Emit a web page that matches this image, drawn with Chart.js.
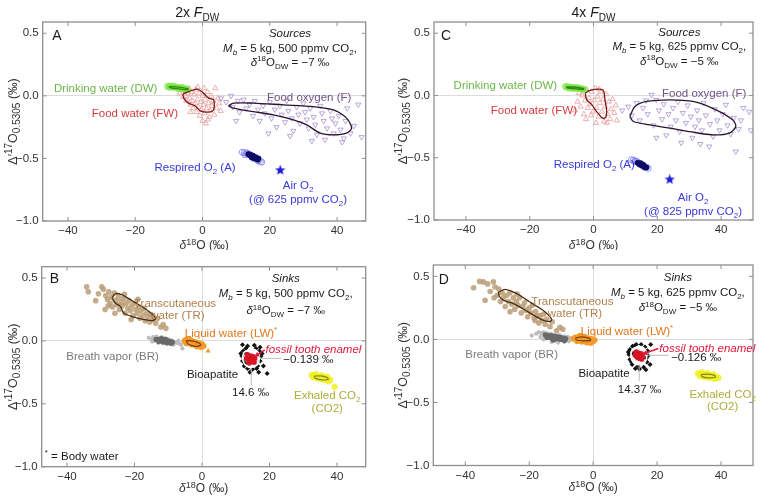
<!DOCTYPE html>
<html>
<head>
<meta charset="utf-8">
<script src="https://cdn.jsdelivr.net/npm/chart.js@4.4.1/dist/chart.umd.min.js"></script>
<style>
  body { margin: 0; background: #fff; }
  #wrap { position: relative; width: 760px; height: 497px; overflow: hidden; }
  canvas { position: absolute; }
</style>
</head>
<body>
<div id="wrap">
  <canvas id="panelA" width="380" height="250" style="left:0;top:0"></canvas>
  <canvas id="panelC" width="380" height="250" style="left:380px;top:0"></canvas>
  <canvas id="panelB" width="380" height="247" style="left:0;top:250px"></canvas>
  <canvas id="panelD" width="380" height="247" style="left:380px;top:250px"></canvas>
</div>
<script>
// ---- axis ticks ----
const xTicks = [-40, -20, 0, 20, 40];
const yTicks = [-1.0, -0.5, 0.0, 0.5];

// ---- panel A (sources, 2x F_DW) ----
const dwA = [[-10.4,0.076],[-10,0.072],[-9.6,0.078],[-9.2,0.071],[-8.8,0.073],[-8.4,0.067],[-8,0.07],[-7.6,0.064],[-7.2,0.067],[-6.8,0.061],[-6.4,0.063],[-6,0.058],[-5.6,0.06],[-5.2,0.054],[-4.8,0.055],[-4.4,0.05],[-9.8,0.068],[-8.6,0.079],[-7,0.057],[-6.2,0.069],[-5,0.047]];
const dwLineA = [[-10,0.074],[-7,0.07],[-4.5,0.058],[-4.2,0.05],[-7,0.056],[-9.5,0.064],[-10,0.074]];
const fwA = [[-6.8,0.02],[-6.2,0.05],[-5.8,-0.01],[-5.4,0.04],[-5,0.0],[-4.8,-0.04],[-4.4,0.02],[-4,0.06],[-3.8,-0.02],[-3.5,-0.07],[-3.2,0.03],[-3,-0.04],[-2.8,-0.1],[-2.5,0.01],[-2.2,-0.06],[-2,0.05],[-1.8,-0.13],[-1.5,-0.03],[-1.2,-0.09],[-1,0.02],[-0.8,-0.16],[-0.5,-0.05],[-0.3,-0.11],[0,0.0],[0,-0.2],[0.3,-0.07],[0.6,-0.14],[0.8,-0.03],[1,-0.22],[1.2,-0.1],[1.5,0.03],[1.8,-0.06],[2,-0.17],[2.3,-0.12],[2.6,0.0],[2.8,-0.08],[3.2,-0.04],[3.5,-0.15],[3.8,0.06],[4.2,-0.1],[4.6,-0.02],[5,-0.06],[5.4,-0.12],[-1.4,0.07],[0.5,0.06],[-3.6,-0.13],[1.6,-0.19]];
const fwLineA = [[-5.8,0.016],[-1.7,0.054],[-0.2,0.034],[1.8,-0.018],[3.3,-0.032],[3.3,-0.112],[1.8,-0.13],[-0.7,-0.12],[-2.2,-0.08],[-4.2,-0.058],[-5.6,-0.018],[-5.8,0.016]];
const foA = [[5.5,-0.02],[7,-0.05],[8.5,0.0],[9,-0.09],[10.5,-0.04],[11,-0.13],[12.2,-0.03],[13,-0.1],[14,-0.07],[15,-0.16],[15.5,-0.04],[16.5,-0.11],[17,-0.2],[18,-0.08],[18.5,-0.14],[19.6,-0.3],[20,-0.05],[20.5,-0.18],[21.5,-0.11],[22,-0.25],[23,-0.08],[23.5,-0.15],[24.5,-0.21],[25,-0.04],[25.5,-0.12],[26.5,-0.18],[27,-0.28],[28,-0.09],[28.5,-0.15],[29,-0.22],[30,-0.06],[30.5,-0.13],[31,-0.19],[31.5,-0.26],[32,-0.1],[33,-0.17],[33.5,-0.23],[34,-0.31],[35,-0.08],[35.5,-0.14],[36,-0.2],[36.4,-0.35],[37,-0.26],[38,-0.12],[38.5,-0.18],[39,-0.3],[39.5,-0.22],[40.5,-0.16],[41,-0.27],[41.5,-0.37],[42.5,-0.2],[43,-0.1],[44,-0.3],[45,-0.24],[46.3,-0.07],[47.3,-0.33],[42,-0.34],[10,-0.2],[26,-0.32],[32.5,-0.36]];
const foLineA = [[7.7,-0.08],[9.2,-0.058],[15.1,-0.058],[24.0,-0.072],[32.9,-0.086],[38.9,-0.112],[42.8,-0.178],[44.3,-0.258],[42.8,-0.298],[38.9,-0.312],[35.0,-0.298],[31.0,-0.232],[27.0,-0.192],[21.1,-0.152],[15.1,-0.126],[9.2,-0.098],[7.7,-0.08]];
const raLightA = [[11.8,-0.45],[12.4,-0.455],[13,-0.46],[12.6,-0.47],[13.6,-0.47],[14.2,-0.475],[16.5,-0.52],[17.2,-0.525],[17.6,-0.53],[16.8,-0.51],[15.2,-0.5],[13.2,-0.455]];
const raCoreA = [[13.6,-0.465],[14,-0.472],[14.4,-0.478],[14.8,-0.485],[15.2,-0.49],[15.6,-0.497],[16,-0.503],[16.4,-0.51],[14.2,-0.467],[15,-0.478],[15.8,-0.49],[16.6,-0.5],[14.6,-0.492],[15.4,-0.5]];
const airA = [[23.1,-0.59]];

// ---- panel C (sources, 4x F_DW) ----
const dwC = [[-8.8,0.072],[-8.4,0.068],[-8,0.07],[-7.6,0.066],[-7.2,0.067],[-6.8,0.063],[-6.4,0.064],[-6,0.06],[-5.6,0.061],[-5.2,0.057],[-4.8,0.058],[-4.4,0.054],[-4,0.055],[-3.6,0.051],[-3.2,0.05],[-2.8,0.047],[-7.8,0.06],[-5,0.065],[-6.6,0.056]];
const dwLineC = [[-8.5,0.07],[-6,0.068],[-3.2,0.056],[-3,0.048],[-6,0.054],[-8.3,0.062],[-8.5,0.07]];
const fwC = [[-5.8,-0.12],[-5,-0.05],[-4.6,0.02],[-4,-0.09],[-3.5,0.0],[-3,-0.15],[-2.6,-0.04],[-2.2,0.05],[-1.8,-0.1],[-1.4,-0.02],[-1,-0.07],[-0.6,0.03],[-0.2,-0.13],[0.2,-0.04],[0.6,0.06],[1,-0.1],[1.3,-0.01],[1.6,-0.17],[2,-0.06],[2.3,0.03],[2.6,-0.13],[3,-0.03],[3.3,-0.21],[3.6,-0.09],[4,0.01],[4.4,-0.15],[4.8,-0.05],[5.2,-0.19],[5.5,-0.11],[6,-0.03],[6.5,-0.14],[7,-0.08],[7.3,-0.2],[0.8,-0.22],[-2.4,-0.19],[1.8,0.05],[4.2,-0.22],[-0.8,-0.16]];
const fwLineC = [[-2.6,0.019],[-1.1,0.04],[1.6,0.051],[3.1,0.04],[3.6,-0.035],[4.1,-0.115],[3.9,-0.174],[2.9,-0.182],[1.0,-0.129],[-0.5,-0.075],[-2.1,-0.035],[-2.6,0.019]];
const foC = [[9,-0.12],[10.9,-0.09],[12,-0.16],[13.5,-0.06],[14.5,-0.2],[15.5,-0.1],[16.5,-0.04],[17,-0.15],[18.2,0.005],[18.8,-0.24],[19.7,-0.035],[19.7,-0.34],[20.5,-0.12],[21.5,-0.19],[22,-0.07],[22.8,-0.32],[23.5,-0.15],[24.2,-0.25],[24.9,-0.1],[25.8,-0.2],[26.5,-0.05],[27,-0.29],[28,-0.14],[29,-0.22],[29.5,-0.08],[30.5,-0.17],[31,-0.34],[31.8,-0.25],[32.5,-0.12],[33,-0.2],[34,-0.28],[34.5,-0.06],[35.2,-0.16],[36.3,-0.41],[36.5,-0.23],[37.5,-0.33],[38,-0.11],[38.8,-0.2],[39.5,-0.28],[40.5,-0.15],[41.5,-0.075],[42,-0.24],[43,-0.31],[44,-0.18],[44.6,-0.45],[45.5,-0.27],[46.2,-0.2],[47,-0.1],[48.8,-0.13],[49.3,-0.28],[33.5,-0.39],[27.5,-0.38]];
const foLineC = [[11.4,-0.169],[13.0,-0.089],[16.6,-0.048],[23.9,-0.035],[31.2,-0.048],[38.4,-0.115],[43.6,-0.195],[44.6,-0.249],[42.6,-0.302],[37.4,-0.316],[30.1,-0.29],[23.9,-0.262],[17.6,-0.236],[12.5,-0.209],[11.4,-0.169]];
const raLightC = [[11.9,-0.515],[12.5,-0.52],[13.1,-0.525],[12.8,-0.532],[13.6,-0.53],[16.6,-0.575],[17.1,-0.585],[16.2,-0.58],[14,-0.54]];
const raCoreC = [[13.8,-0.54],[14.2,-0.545],[14.6,-0.55],[15,-0.556],[15.4,-0.562],[15.8,-0.568],[16.2,-0.573],[16.6,-0.579],[14.4,-0.555],[15.2,-0.565],[16,-0.576],[14.8,-0.542],[15.6,-0.555]];
const airC = [[23.9,-0.67]];

// ---- panel B (sinks, 2x F_DW) ----
const trB = [[-34.2,0.43],[-33.7,0.39],[-30.7,0.375],[-29.7,0.43],[-29.2,0.41],[-28.7,0.25],[-28.5,0.36],[-28,0.33],[-27.6,0.39],[-27.2,0.3],[-26.8,0.35],[-26.5,0.27],[-26,0.38],[-25.6,0.32],[-25.2,0.29],[-24.8,0.35],[-24.5,0.25],[-24,0.31],[-23.6,0.28],[-23.2,0.34],[-22.8,0.22],[-22.5,0.3],[-22,0.26],[-21.6,0.32],[-21.2,0.24],[-20.8,0.28],[-20.4,0.2],[-20,0.3],[-19.6,0.25],[-19.2,0.22],[-18.8,0.27],[-18.4,0.18],[-18,0.24],[-17.6,0.2],[-17.2,0.26],[-16.8,0.16],[-16.4,0.22],[-16,0.19],[-15.5,0.15],[-15,0.21],[-14.5,0.17],[-13.7,0.14],[-13.2,0.18],[-12.2,0.11],[-10.7,0.1],[-11.5,0.13],[-31.5,0.32],[-23,0.37],[-19,0.33],[-25.8,0.22],[-21,0.17],[-27.8,0.28]];
const trLineB = [[-26.7,0.341],[-25.7,0.375],[-23.7,0.367],[-21.2,0.327],[-18.7,0.287],[-15.7,0.234],[-13.7,0.181],[-14.7,0.162],[-16.7,0.168],[-20.7,0.194],[-23.2,0.221],[-24.2,0.274],[-25.7,0.301],[-26.7,0.341]];
const brLightB = [[-15.8,0.025],[-15,0.015],[-14.5,0.03],[-14.2,0.0],[-13.5,0.035],[-12.8,0.025],[-12,0.03],[-11,0.02],[-10,0.015],[-9,0.005],[-8.2,-0.01],[-7.5,-0.015],[-6.8,-0.02],[-7,0.0],[-13,-0.015],[-10.5,-0.025],[-8.5,-0.03],[-6.2,-0.03],[-14.8,-0.005],[-5.8,-0.06]];
const brCoreB = [[-13.6,0.012],[-13,0.01],[-12.4,0.008],[-11.8,0.005],[-11.2,0.003],[-10.6,0.0],[-10,-0.003],[-9.4,-0.006],[-8.8,-0.01],[-12.8,-0.005],[-11.5,-0.01],[-10.2,-0.014],[-9.2,-0.018],[-12,0.018],[-10.8,0.012]];
const lwB = [[-5.2,0.0],[-4.8,0.01],[-4.4,-0.005],[-4,0.008],[-3.6,-0.012],[-3.2,0.004],[-2.8,-0.018],[-2.4,-0.006],[-2,-0.024],[-1.6,-0.012],[-1.2,-0.03],[-0.8,-0.02],[-0.4,-0.036],[0,-0.026],[0.5,-0.04],[-4.6,-0.02],[-3,-0.03],[-1.5,-0.045],[-0.2,-0.05],[-3.8,0.014]];
const lwOutB = [[1.8,-0.08]];
const lwLineB = [[-4.7,0.002],[-2.8,0.0],[-0.8,-0.018],[-0.4,-0.034],[-2,-0.043],[-4,-0.027],[-4.7,0.002]];
const bioB = [[12,-0.03],[13.5,-0.04],[15.5,-0.035],[17.2,-0.05],[12.2,-0.08],[11.8,-0.12],[12,-0.16],[12.5,-0.2],[13.5,-0.22],[15,-0.225],[16.5,-0.2],[17.2,-0.16],[17.5,-0.12],[17,-0.08],[16,-0.06],[13,-0.06],[18.2,-0.2],[19.3,-0.26],[16.8,-0.25],[14.2,-0.25],[11.5,-0.1],[12.8,-0.18],[16.2,-0.22],[17.8,-0.1],[13,-0.1]];
const bioCoreB = [[13.5,-0.11],[14.2,-0.12],[15,-0.125],[15.6,-0.14],[13.8,-0.15],[14.6,-0.16],[15.4,-0.17],[14,-0.175],[14.8,-0.13],[13.2,-0.14]];
const bioLineB = [[12.4,-0.09],[14.6,-0.065],[16.6,-0.09],[17,-0.14],[16.4,-0.19],[14.6,-0.21],[12.8,-0.19],[12,-0.14],[12.4,-0.09]];
const toothB = [[14.6,-0.139]];
const co2B = [[32.5,-0.27],[33.2,-0.275],[34,-0.28],[34.8,-0.285],[35.6,-0.29],[36.4,-0.295],[37.2,-0.3],[38,-0.31],[33,-0.29],[34.5,-0.3],[36,-0.31],[37.5,-0.32],[33.8,-0.265],[35.5,-0.275],[37,-0.285],[39.3,-0.365]];
const co2LineB = [[33.2,-0.28],[35,-0.278],[37,-0.29],[37.4,-0.305],[35.5,-0.31],[33.6,-0.298],[33.2,-0.28]];

// ---- panel D (sinks, 4x F_DW) ----
const trD = [[-37.4,0.41],[-35.5,0.46],[-34.3,0.456],[-33.8,0.31],[-33,0.44],[-32.2,0.38],[-31.2,0.456],[-30.7,0.416],[-30,0.35],[-29.5,0.4],[-29,0.3],[-28.5,0.37],[-28,0.33],[-27.5,0.26],[-27,0.35],[-26.5,0.3],[-26,0.37],[-25.5,0.28],[-25,0.33],[-24.5,0.24],[-24,0.3],[-23.5,0.27],[-23,0.33],[-22.5,0.21],[-22,0.26],[-21.5,0.29],[-21,0.23],[-20.5,0.18],[-20,0.25],[-19.5,0.21],[-19,0.27],[-18.5,0.17],[-18.2,0.149],[-18,0.22],[-17.5,0.19],[-17,0.13],[-16.6,0.189],[-16,0.15],[-15.5,0.2],[-15,0.12],[-14.5,0.16],[-13.5,0.1],[-12.8,0.14],[-11.4,0.069],[-10.4,0.096],[-9.5,0.08],[-26,0.22],[-31,0.33],[-23.8,0.36]];
const trLineD = [[-29.6,0.376],[-27.5,0.397],[-23.9,0.363],[-19.8,0.296],[-15.6,0.229],[-13.0,0.162],[-13.5,0.141],[-16.1,0.157],[-20.2,0.216],[-24.9,0.283],[-28.0,0.309],[-29.4,0.344],[-29.6,0.376]];
const brLightD = [[-19.2,0.03],[-17.8,0.045],[-17,0.056],[-16.2,0.05],[-15.5,0.055],[-14.5,0.05],[-13.2,0.045],[-12,0.04],[-10.5,0.035],[-9,0.025],[-8,0.02],[-7.3,0.01],[-7.6,-0.015],[-9,-0.02],[-11,-0.025],[-13,-0.02],[-15.5,0.0],[-16.5,0.02]];
const brCoreD = [[-15,0.035],[-14.2,0.03],[-13.4,0.03],[-12.6,0.025],[-11.8,0.022],[-11,0.02],[-10.2,0.016],[-9.4,0.01],[-8.6,0.005],[-14.4,0.015],[-13,0.01],[-11.6,0.005],[-10.2,0.0],[-9,-0.008],[-12.4,-0.005]];
const lwD = [[-6.2,0.005],[-5.6,0.015],[-5,0.0],[-4.6,0.02],[-4,0.008],[-3.5,0.022],[-3,0.004],[-2.5,0.016],[-2,-0.006],[-1.5,0.01],[-1,-0.012],[-0.5,0.004],[0,-0.015],[0.5,-0.005],[-5,-0.015],[-3.5,-0.018],[-2,-0.025],[-0.8,-0.028],[-4.2,0.03]];
const lwLineD = [[-5.5,0.012],[-3.5,0.02],[-1.2,0.008],[-0.8,-0.008],[-3,-0.012],[-5.2,-0.005],[-5.5,0.012]];
const bioD = [[11.5,-0.08],[11.2,-0.12],[11.5,-0.16],[12.2,-0.2],[13.2,-0.23],[14.5,-0.235],[15.8,-0.22],[16.8,-0.18],[17.2,-0.13],[17,-0.09],[16.2,-0.06],[15,-0.04],[13.5,-0.04],[12.3,-0.055],[18,-0.04],[17.8,-0.2],[11,-0.1],[12,-0.18],[13,-0.05],[16.5,-0.24],[14,-0.21],[16.6,-0.15],[12.5,-0.11]];
const bioCoreD = [[13.5,-0.1],[14.2,-0.11],[15,-0.115],[15.4,-0.13],[13.8,-0.14],[14.5,-0.15],[15.2,-0.155],[13.2,-0.125],[14.6,-0.12]];
const bioLineD = [[12.2,-0.08],[14.3,-0.055],[16.3,-0.08],[16.8,-0.13],[16.2,-0.18],[14.3,-0.2],[12.5,-0.18],[11.8,-0.13],[12.2,-0.08]];
const toothD = [[14.37,-0.126]];
const co2D = [[32.8,-0.27],[33.6,-0.272],[34.4,-0.276],[35.2,-0.28],[36,-0.284],[36.8,-0.288],[37.6,-0.292],[38.4,-0.298],[39.2,-0.305],[33.4,-0.29],[34.8,-0.298],[36.4,-0.305],[38,-0.312],[34,-0.262],[35.8,-0.268],[37.6,-0.278]];
const co2LineD = [[33.8,-0.278],[36,-0.275],[38,-0.285],[38.2,-0.3],[36,-0.305],[34,-0.295],[33.8,-0.278]];

// ---- colours ----
const GREEN = '#6db548', RED = '#d43c3c', PURPLE = '#6f5384', BLUE = '#3838d8';
const TAN = '#b07f4c', GREY = '#7a7a7a', ORANGE = '#e0781c', OLIVE = '#adad3a', CRIMSON = '#e0183a';
const FONT = '"Liberation Sans", Arial, Helvetica, sans-serif';

const pts = (arr) => arr.map(([x, y]) => ({ x, y }));

function makeStar(color, size) {
  const c = document.createElement('canvas');
  c.width = size; c.height = size;
  const g = c.getContext('2d');
  const r = size / 2, ri = r * 0.42;
  g.beginPath();
  for (let i = 0; i < 10; i++) {
    const rad = i % 2 ? ri : r;
    const a = -Math.PI / 2 + i * Math.PI / 5;
    g.lineTo(r + rad * Math.cos(a), r + 0.6 + rad * Math.sin(a));
  }
  g.closePath();
  g.fillStyle = color;
  g.fill();
  return c;
}
const blueStar = makeStar('#1c1cd6', 11);
const redStar = makeStar('#e0101e', 12);

function cloud(arr, o) {
  return {
    data: pts(arr),
    showLine: false,
    pointStyle: o.style || 'circle',
    pointRadius: o.r || 2.5,
    pointRotation: o.rot || 0,
    pointBackgroundColor: o.fill || 'rgba(0,0,0,0)',
    pointBorderColor: o.line || 'rgba(0,0,0,0)',
    pointBorderWidth: o.w ?? 1
  };
}

function outline(arr, color, w) {
  return {
    data: pts(arr),
    showLine: true,
    borderColor: color,
    borderWidth: w || 1.2,
    pointRadius: 0,
    tension: 0.3,
    fill: false
  };
}

// tiny markup: ~italic~  ^{sup}  _{sub}
function parseRich(str) {
  const runs = [];
  let it = false, buf = '';
  const flush = () => { if (buf) { runs.push({ t: buf, m: 'n', it }); buf = ''; } };
  for (let i = 0; i < str.length; i++) {
    const ch = str[i];
    if (ch === '~') { flush(); it = !it; }
    else if ((ch === '^' || ch === '_') && str[i + 1] === '{') {
      flush();
      const end = str.indexOf('}', i);
      runs.push({ t: str.slice(i + 2, end), m: ch === '^' ? 'sup' : 'sub', it });
      i = end;
    } else buf += ch;
  }
  flush();
  return runs;
}

function fontFor(run, size, small) {
  const s = run.m === 'n' ? size : Math.round(size * (small || 0.72));
  return `${run.it ? 'italic ' : ''}${s}px ${FONT}`;
}

function drawRich(ctx, str, x, y, size, color, align, small) {
  const runs = parseRich(str);
  let total = 0;
  runs.forEach((r) => { ctx.font = fontFor(r, size, small); r.w = ctx.measureText(r.t).width; total += r.w; });
  let cx = align === 'left' ? x : align === 'right' ? x - total : x - total / 2;
  ctx.fillStyle = color;
  ctx.textAlign = 'left';
  ctx.textBaseline = 'alphabetic';
  const base = y + size * 0.36;
  runs.forEach((r) => {
    ctx.font = fontFor(r, size, small);
    const dy = r.m === 'sup' ? -size * 0.38 : r.m === 'sub' ? size * 0.26 : 0;
    ctx.fillText(r.t, cx, base + dy);
    cx += r.w;
  });
}

function notesPlugin(cfg) {
  return {
    id: 'notes',
    afterDatasetsDraw(chart) {
      const { ctx, chartArea: a, scales: { x, y } } = chart;
      ctx.save();
      // frame with inward ticks
      ctx.strokeStyle = '#8f8f8f';
      ctx.lineWidth = 1.3;
      ctx.strokeRect(a.left, a.top, a.width, a.height);
      ctx.lineWidth = 1;
      ctx.beginPath();
      xTicks.forEach((v) => {
        const p = x.getPixelForValue(v);
        ctx.moveTo(p, a.bottom); ctx.lineTo(p, a.bottom - 4);
        ctx.moveTo(p, a.top); ctx.lineTo(p, a.top + 4);
      });
      yTicks.forEach((v) => {
        const p = y.getPixelForValue(v);
        ctx.moveTo(a.left, p); ctx.lineTo(a.left + 4, p);
        ctx.moveTo(a.right, p); ctx.lineTo(a.right - 4, p);
      });
      ctx.stroke();

      // leader lines and arrows
      (cfg.lines || []).forEach((l) => {
        const x1 = x.getPixelForValue(l.from[0]), y1 = y.getPixelForValue(l.from[1]);
        const x2 = x.getPixelForValue(l.to[0]), y2 = y.getPixelForValue(l.to[1]);
        ctx.strokeStyle = l.c;
        ctx.lineWidth = l.w || 1;
        ctx.beginPath(); ctx.moveTo(x1, y1); ctx.lineTo(x2, y2); ctx.stroke();
        if (l.arrow) {
          const ang = Math.atan2(y2 - y1, x2 - x1);
          ctx.fillStyle = l.c;
          ctx.beginPath();
          ctx.moveTo(x2, y2);
          ctx.lineTo(x2 - 6 * Math.cos(ang - 0.45), y2 - 6 * Math.sin(ang - 0.45));
          ctx.lineTo(x2 - 6 * Math.cos(ang + 0.45), y2 - 6 * Math.sin(ang + 0.45));
          ctx.closePath(); ctx.fill();
        }
      });

      // text labels
      cfg.notes.forEach((n) => {
        drawRich(ctx, n.t, x.getPixelForValue(n.x), y.getPixelForValue(n.y), n.size || 11.5, n.c || '#1a1a1a', n.align || 'center');
      });

      // titles
      if (cfg.title) drawRich(ctx, cfg.title, x.getPixelForValue(cfg.titleX), cfg.titleY, 14, '#1a1a1a', 'center');
      drawRich(ctx, '~δ~^{18}O (‰)', (a.left + a.right) / 2, cfg.xTitleY, 12, '#333', 'center');
      ctx.translate(cfg.yTitleX, (a.top + a.bottom) / 2);
      ctx.rotate(-Math.PI / 2);
      drawRich(ctx, 'Δ′^{17}O_{0.5305} (‰)', 0, 0, 12.5, '#333', 'center', 0.8);
      ctx.restore();
    }
  };
}

function makePanel(id, cfg) {
  new Chart(document.getElementById(id), {
    type: 'scatter',
    data: { datasets: cfg.datasets },
    options: {
      responsive: false,
      animation: false,
      devicePixelRatio: 1,
      layout: { padding: { left: 0, bottom: 0, top: cfg.top, right: cfg.right } },
      plugins: { legend: { display: false }, tooltip: { enabled: false } },
      scales: {
        x: {
          type: 'linear', min: cfg.xMin, max: cfg.xMax,
          afterBuildTicks: (s) => { s.ticks = xTicks.map((v) => ({ value: v })); },
          afterFit: (s) => { s.height = cfg.xH; },
          ticks: { color: '#333', padding: 3, font: { family: FONT, size: 11.5 }, callback: (v) => String(v).replace('-', '−') },
          grid: { drawTicks: false, color: (c) => (c.tick && c.tick.value === 0 ? '#dcdcdc' : 'rgba(0,0,0,0)') },
          border: { display: false }
        },
        y: {
          type: 'linear', min: -1.0, max: 0.59,
          afterBuildTicks: (s) => { s.ticks = yTicks.map((v) => ({ value: v })); },
          afterFit: (s) => { s.width = cfg.yW; },
          ticks: { color: '#333', padding: 4, font: { family: FONT, size: 11.5 }, callback: (v) => Number(v).toFixed(1).replace('-', '−') },
          grid: { drawTicks: false, color: (c) => (c.tick && c.tick.value === 0 ? '#dcdcdc' : 'rgba(0,0,0,0)') },
          border: { display: false }
        }
      }
    },
    plugins: [notesPlugin(cfg)]
  });
}

function sourceSets(d) {
  return [
    outline(d.dwLine, '#2f8a12', 1.3),
    outline(d.fwLine, '#7e1616', 1.3),
    outline(d.foLine, '#2c1430', 1.3),
    cloud(d.air, { style: blueStar, r: 6 }),
    cloud(d.raCore, { fill: '#0c0c66', r: 2.8, w: 0 }),
    cloud(d.raLight, { line: '#7b7bf0', r: 3, w: 0.8 }),
    cloud(d.dw, { fill: 'rgba(125,230,70,0.6)', r: 3.5, w: 0 }),
    cloud(d.fw, { style: 'triangle', line: '#e89a9a', r: 3, w: 0.8 }),
    cloud(d.fo, { style: 'triangle', rot: 180, line: '#a791cf', r: 3, w: 0.8 })
  ];
}

function sinkSets(d) {
  return [
    cloud(d.tooth, { style: redStar, r: 6 }),
    outline(d.bioLine, '#ffffff', 1.6),
    cloud(d.bioCore, { fill: '#d01a2a', r: 2.8, w: 0 }),
    cloud(d.bio, { style: 'rectRot', fill: '#111', r: 2.5, w: 0 }),
    outline(d.trLine, '#4a2f16', 1.3),
    outline(d.lwLine, '#7a3e0a', 1.2),
    outline(d.co2Line, '#878712', 1.2),
    cloud(d.co2, { fill: 'rgba(240,240,40,0.85)', r: 3.2, w: 0 }),
    cloud(d.lw, { fill: '#f39a2a', r: 2.9, w: 0 }),
    cloud(d.lwOut || [], { style: 'triangle', fill: '#f39a2a', r: 3, w: 0 }),
    cloud(d.brCore, { fill: '#6a6a6a', r: 2.7, w: 0 }),
    cloud(d.brLight, { fill: '#bdbdbd', r: 2.1, w: 0 }),
    cloud(d.tr, { fill: 'rgba(186,156,116,0.85)', r: 2.8, w: 0 })
  ];
}

makePanel('panelA', {
  xMin: -47.5, xMax: 48.5, top: 22, right: 14.3, yW: 42.7, xH: 29,
  title: '2x ~F~_{DW}', titleX: -1.6, titleY: 12, xTitleY: 245, yTitleX: 12,
  datasets: sourceSets({ dw: dwA, dwLine: dwLineA, fw: fwA, fwLine: fwLineA, fo: foA, foLine: foLineA, raLight: raLightA, raCore: raCoreA, air: airA }),
  notes: [
    { t: 'A', x: -43.3, y: 0.49, size: 14 },
    { t: '~Sources~', x: 26, y: 0.5 },
    { t: '~M_{b}~ = 5 kg, 500 ppmv CO_{2},', x: 26, y: 0.385 },
    { t: '~δ~^{18}O_{DW} = −7 ‰', x: 26, y: 0.274 },
    { t: 'Drinking water (DW)', x: -13.4, y: 0.064, c: GREEN, align: 'right' },
    { t: 'Food water (FW)', x: -20.1, y: -0.136, c: RED },
    { t: 'Food oxygen (F)', x: 31.7, y: -0.008, c: PURPLE },
    { t: 'Respired O_{2} (A)', x: -2.2, y: -0.566, c: BLUE },
    { t: 'Air O_{2}', x: 28.4, y: -0.71, c: BLUE },
    { t: '(@ 625 ppmv CO_{2})', x: 28.4, y: -0.82, c: BLUE }
  ]
});

makePanel('panelC', {
  xMin: -50, xMax: 50, top: 22, right: 3, yW: 54, xH: 30,
  title: '4x ~F~_{DW}', titleX: 0, titleY: 12, xTitleY: 245, yTitleX: 22,
  datasets: sourceSets({ dw: dwC, dwLine: dwLineC, fw: fwC, fwLine: fwLineC, fo: foC, foLine: foLineC, raLight: raLightC, raCore: raCoreC, air: airC }),
  notes: [
    { t: 'C', x: -46.2, y: 0.488, size: 14 },
    { t: '~Sources~', x: 26.9, y: 0.512 },
    { t: '~M_{b}~ = 5 kg, 625 ppmv CO_{2},', x: 26.9, y: 0.4 },
    { t: '~δ~^{18}O_{DW} = −5 ‰', x: 26.9, y: 0.279 },
    { t: 'Drinking water (DW)', x: -11.4, y: 0.086, c: GREEN, align: 'right' },
    { t: 'Food water (FW)', x: -18.7, y: -0.115, c: RED },
    { t: 'Food oxygen (F)', x: 34.7, y: 0.024, c: PURPLE },
    { t: 'Respired O_{2} (A)', x: 0.25, y: -0.55, c: BLUE },
    { t: 'Air O_{2}', x: 31.2, y: -0.813, c: BLUE },
    { t: '(@ 825 ppmv CO_{2})', x: 31.2, y: -0.925, c: BLUE }
  ]
});

makePanel('panelB', {
  xMin: -47.5, xMax: 48.5, top: 16.7, right: 14.3, yW: 41.7, xH: 30.3,
  xTitleY: 238, yTitleX: 12,
  datasets: sinkSets({ tr: trB, trLine: trLineB, brLight: brLightB, brCore: brCoreB, lw: lwB, lwOut: lwOutB, lwLine: lwLineB, bio: bioB, bioCore: bioCoreB, bioLine: bioLineB, tooth: toothB, co2: co2B, co2Line: co2LineB }),
  lines: [
    { from: [17.3, -0.139], to: [23.4, -0.139], c: '#bbbbbb' },
    { from: [14.6, -0.215], to: [14.6, -0.35], c: '#bbbbbb' },
    { from: [18.6, -0.072], to: [15.4, -0.128], c: CRIMSON, w: 1.5, arrow: true }
  ],
  notes: [
    { t: 'B', x: -43.7, y: 0.5, size: 14 },
    { t: '~Sinks~', x: 24.8, y: 0.5 },
    { t: '~M_{b}~ = 5 kg, 500 ppmv CO_{2},', x: 24.8, y: 0.381 },
    { t: '~δ~^{18}O_{DW} = −7 ‰', x: 24.8, y: 0.247 },
    { t: 'Transcutaneous', x: -8.0, y: 0.306, c: TAN },
    { t: 'water (TR)', x: -7.3, y: 0.207, c: TAN },
    { t: 'Breath vapor (BR)', x: -26.5, y: -0.12, c: GREY },
    { t: 'Liquid water (LW)^{*}', x: 8.6, y: 0.066, c: ORANGE },
    { t: 'Bioapatite', x: 3.1, y: -0.263 },
    { t: '~fossil tooth enamel~', x: 18.8, y: -0.064, c: CRIMSON, align: 'left' },
    { t: '−0.139 ‰', x: 24.1, y: -0.146, align: 'left' },
    { t: '14.6 ‰', x: 14.4, y: -0.405 },
    { t: 'Exhaled CO_{2}', x: 37.1, y: -0.431, c: OLIVE },
    { t: '(CO2)', x: 37.1, y: -0.532, c: OLIVE },
    { t: '^{*} = Body water', x: -46.6, y: -0.91, align: 'left' }
  ]
});

makePanel('panelD', {
  xMin: -50, xMax: 50, top: 15, right: 2.5, yW: 53.3, xH: 31.5,
  xTitleY: 237, yTitleX: 22,
  datasets: sinkSets({ tr: trD, trLine: trLineD, brLight: brLightD, brCore: brCoreD, lw: lwD, lwLine: lwLineD, bio: bioD, bioCore: bioCoreD, bioLine: bioLineD, tooth: toothD, co2: co2D, co2Line: co2LineD }),
  lines: [
    { from: [16.9, -0.126], to: [23.6, -0.126], c: '#bbbbbb' },
    { from: [14.4, -0.21], to: [14.4, -0.33], c: '#bbbbbb' },
    { from: [20.4, -0.072], to: [15.3, -0.118], c: CRIMSON, w: 1.5, arrow: true }
  ],
  notes: [
    { t: 'D', x: -46.7, y: 0.482, size: 14 },
    { t: '~Sinks~', x: 26.5, y: 0.496 },
    { t: '~M_{b}~ = 5 kg, 625 ppmv CO_{2},', x: 26.5, y: 0.378 },
    { t: '~δ~^{18}O_{DW} = −5 ‰', x: 26.5, y: 0.256 },
    { t: 'Transcutaneous', x: -6.5, y: 0.309, c: TAN },
    { t: 'water (TR)', x: -5.7, y: 0.21, c: TAN },
    { t: 'Breath vapor (BR)', x: -25.5, y: -0.118, c: GREY },
    { t: 'Liquid water (LW)^{*}', x: 10.6, y: 0.069, c: ORANGE },
    { t: 'Bioapatite', x: 3.4, y: -0.264 },
    { t: '~fossil tooth enamel~', x: 20.7, y: -0.064, c: CRIMSON, align: 'left' },
    { t: '−0.126 ‰', x: 24.4, y: -0.136, align: 'left' },
    { t: '14.37 ‰', x: 14.5, y: -0.392 },
    { t: 'Exhaled CO_{2}', x: 40.5, y: -0.43, c: OLIVE },
    { t: '(CO2)', x: 40.5, y: -0.531, c: OLIVE }
  ]
});
</script>
</body>
</html>
